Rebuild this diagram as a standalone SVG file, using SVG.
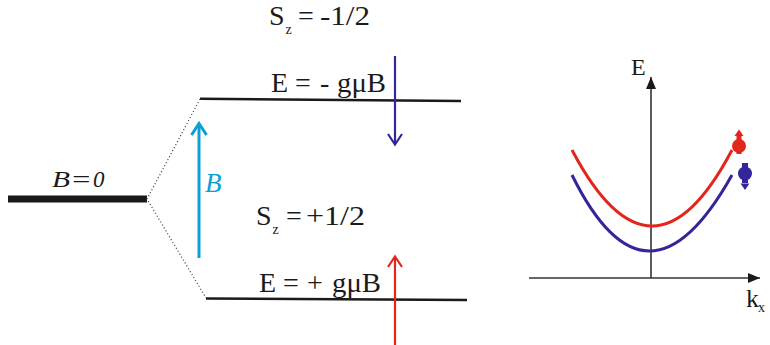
<svg xmlns="http://www.w3.org/2000/svg" width="770" height="345" viewBox="0 0 770 345">
<style>
text{font-family:'Liberation Serif','Times New Roman',Times,serif;fill:#1a1a1a}
.lvl{stroke:#1a1a1a;stroke-width:2.5;fill:none}
.dot{stroke:#555;stroke-width:1.2;stroke-dasharray:1.2 2.2;fill:none}
.ax{stroke:#333;stroke-width:1.6;fill:none}
</style>
<defs>
<marker id="axh" markerWidth="12" markerHeight="10" refX="12" refY="5" orient="auto" markerUnits="userSpaceOnUse">
<path d="M0,0 L12,5 L0,10 Z" fill="#1a1a1a"/>
</marker>
</defs>
<g id="level-b0">
<rect x="8" y="195.5" width="139" height="7" fill="#1a1a1a"/>
<text font-style="italic" font-size="23" x="52" y="187" textLength="18" lengthAdjust="spacingAndGlyphs">B</text>
<text font-style="italic" font-size="23" x="70" y="187" textLength="22" lengthAdjust="spacingAndGlyphs">=</text>
<text font-style="italic" font-size="23" x="93" y="187">0</text>
</g>
<g id="level-up">
<line class="lvl" x1="200" y1="98.8" x2="461" y2="101"/>
<text font-size="28" x="269" y="25">S</text>
<text font-size="14" x="285.5" y="34">z</text>
<text font-size="28" x="298" y="25">=</text>
<text font-size="28" x="320" y="25" textLength="50" lengthAdjust="spacingAndGlyphs">-1/2</text>
<text font-size="28" x="271" y="92">E</text>
<text font-size="28" x="295" y="92">=</text>
<text font-size="28" x="320" y="92">-</text>
<text font-size="28" x="337" y="92" textLength="49" lengthAdjust="spacingAndGlyphs">gμB</text>
</g>
<g id="level-down">
<line class="lvl" x1="206" y1="298.5" x2="467" y2="300"/>
<text font-size="28" x="256" y="225">S</text>
<text font-size="14" x="272.5" y="234">z</text>
<text font-size="28" x="286" y="225">=</text>
<text font-size="28" x="306" y="225" textLength="59" lengthAdjust="spacingAndGlyphs">+1/2</text>
<text font-size="28" x="259" y="292">E</text>
<text font-size="28" x="283" y="292">=</text>
<text font-size="28" x="307" y="292">+</text>
<text font-size="28" x="332" y="292" textLength="49" lengthAdjust="spacingAndGlyphs">gμB</text>
</g>
<g id="field-arrow">
<line x1="199" y1="258" x2="199" y2="124" stroke="#0aa0d6" stroke-width="3"/>
<polyline points="191.5,135 199,123.5 206.5,135" fill="none" stroke="#0aa0d6" stroke-width="3"/>
<text font-style="italic" font-size="27" x="205" y="192" style="fill:#0aa0d6">B</text>
</g>
<g id="spin-down-arrow">
<line x1="395" y1="56" x2="395" y2="144" stroke="#33259a" stroke-width="2.2"/>
<polyline points="388,134 395,144.5 402,134" fill="none" stroke="#33259a" stroke-width="2.2"/>
</g>
<g id="spin-up-arrow">
<line x1="395" y1="345" x2="395" y2="257" stroke="#e2261c" stroke-width="2.2"/>
<polyline points="388,267 395,256.5 402,267" fill="none" stroke="#e2261c" stroke-width="2.2"/>
</g>
<g id="connectors">
<polyline class="dot" points="200,99 147,199 206,298"/>
</g>
<g id="dispersion">
<line class="ax" x1="529" y1="278" x2="760" y2="278" marker-end="url(#axh)"/>
<line class="ax" x1="651" y1="278" x2="651" y2="77" marker-end="url(#axh)"/>
<text font-size="24" x="631" y="75">E</text>
<text font-size="26" x="746" y="307">k</text>
<text font-size="14" x="758" y="312">x</text>
<path d="M572,150 Q652,302 732,150" fill="none" stroke="#e2261c" stroke-width="3"/>
<path d="M572,175 Q647,327 732,175" fill="none" stroke="#33259a" stroke-width="3"/>
</g>
<g id="spin-up-symbol" fill="#e2261c">
<path d="M739,129.5 L743.5,136 L734.5,136 Z"/>
<rect x="736.5" y="135" width="5" height="19"/>
<circle cx="739" cy="146" r="7"/>
</g>
<g id="spin-down-symbol" fill="#33259a">
<rect x="742" y="163" width="6" height="20"/>
<circle cx="745" cy="173.5" r="7"/>
<path d="M745,190 L740.5,183.5 L749.5,183.5 Z"/>
</g>
</svg>
